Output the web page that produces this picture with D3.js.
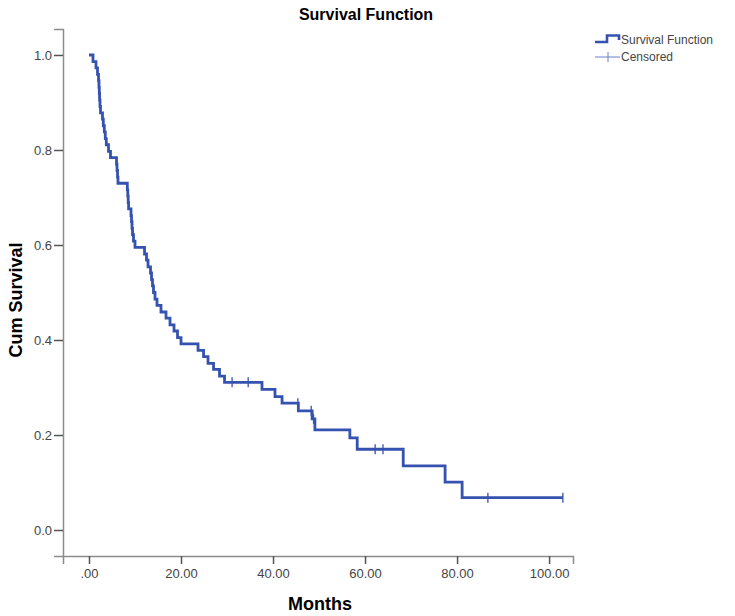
<!DOCTYPE html>
<html>
<head>
<meta charset="utf-8">
<script src="https://cdn.jsdelivr.net/npm/d3@7"></script>
<style>
  html, body { margin: 0; padding: 0; background: #fff; }
  svg { display: block; }
</style>
</head>
<body>
<svg id="chart" width="735" height="616"></svg>
<script>
// ---- Data ----
const eventTimes = [0.87, 1.52, 1.85, 2.07, 2.17, 2.24, 2.30, 2.39, 2.50, 2.93,
  3.11, 3.33, 3.54, 3.76, 4.24, 4.67, 5.98, 6.09, 6.20, 6.30,
  8.33, 8.43, 8.52, 8.61, 9.13, 9.24, 9.35, 9.46, 9.67, 10.0,
  12.07, 12.5, 12.83, 13.37, 13.59, 13.8, 14.02, 14.35, 14.78, 15.65,
  16.74, 17.61, 18.48, 19.24, 20.0, 23.7, 24.9, 25.87, 27.07, 28.37,
  29.46, 37.6, 40.43, 41.96, 45.5, 48.5, 49.1, 56.7, 58.3, 68.3,
  77.4, 81.1];
const survivalValues = [0.986, 0.973, 0.959, 0.946, 0.932, 0.919, 0.905, 0.892, 0.878, 0.865,
  0.851, 0.838, 0.824, 0.811, 0.797, 0.784, 0.770, 0.757, 0.743, 0.730,
  0.716, 0.703, 0.689, 0.676, 0.662, 0.649, 0.635, 0.622, 0.608, 0.595,
  0.581, 0.568, 0.554, 0.541, 0.527, 0.514, 0.500, 0.486, 0.473, 0.459,
  0.446, 0.432, 0.419, 0.405, 0.392, 0.378, 0.365, 0.351, 0.338, 0.324,
  0.311, 0.296, 0.281, 0.267, 0.251, 0.234, 0.211, 0.194, 0.170, 0.135,
  0.101, 0.068];
const censorTimes = [31.1, 34.6, 45.4, 48.3, 48.8, 62.2, 63.9, 86.7, 103.0];
const censorSurvival = [0.311, 0.311, 0.267, 0.251, 0.234, 0.170, 0.170, 0.068, 0.068];
const xTicks = [0, 20, 40, 60, 80, 100];
const yTicks = [0.0, 0.2, 0.4, 0.6, 0.8, 1.0];
const titleText = "Survival Function";
const xTitle = "Months";
const yTitle = "Cum Survival";
const legendItems = ["Survival Function", "Censored"];

// ---- Layout ----
const svg = d3.select("#chart");
const lineColor = "#3552b0";
const axisColor = "#8c8c8c";
const textColor = "#444";

const x = d3.scaleLinear().domain([-5.65, 105.2]).range([63, 573]);
const y = d3.scaleLinear().domain([-0.0547, 1.0547]).range([556, 29]);

// Title
svg.append("text")
  .attr("x", 366).attr("y", 20)
  .attr("text-anchor", "middle")
  .style("font-family", "Liberation Sans, Arial, sans-serif")
  .style("font-weight", "bold")
  .style("font-size", "16px")
  .attr("fill", "#000")
  .text(titleText);

// Axes
const xAxis = d3.axisBottom(x)
  .tickValues(xTicks)
  .tickSizeOuter(0)
  .tickSize(8)
  .tickPadding(5)
  .tickFormat(d => d === 0 ? ".00" : d.toFixed(2));
const yAxis = d3.axisLeft(y)
  .tickValues(yTicks)
  .tickSizeOuter(0)
  .tickSize(9)
  .tickPadding(2)
  .tickFormat(d3.format(".1f"));

const gx = svg.append("g").attr("transform", `translate(0,${y.range()[0]})`).call(xAxis);
const gy = svg.append("g").attr("transform", `translate(${x.range()[0]},0)`).call(yAxis);

[gx, gy].forEach(g => {
  g.select(".domain").attr("stroke", axisColor).attr("stroke-width", 1.5);
  g.selectAll(".tick line").attr("stroke", "#555").attr("stroke-width", 1.5);
  g.selectAll(".tick text")
    .attr("fill", textColor)
    .style("font-family", "Liberation Sans, Arial, sans-serif")
    .style("font-size", "13px");
});

// Axis titles
svg.append("text")
  .attr("x", 320).attr("y", 610)
  .attr("text-anchor", "middle")
  .style("font-family", "Liberation Sans, Arial, sans-serif")
  .style("font-weight", "bold")
  .style("font-size", "18px")
  .text(xTitle);

svg.append("text")
  .attr("transform", "translate(22,300) rotate(-90)")
  .attr("text-anchor", "middle")
  .style("font-family", "Liberation Sans, Arial, sans-serif")
  .style("font-weight", "bold")
  .style("font-size", "18px")
  .text(yTitle);

// Survival step curve
const pts = [[0, 1]].concat(eventTimes.map((t, i) => [t, survivalValues[i]]));
pts.push([d3.max(censorTimes), survivalValues[survivalValues.length - 1]]);

const line = d3.line()
  .x(d => x(d[0]))
  .y(d => y(d[1]))
  .curve(d3.curveStepAfter);

svg.append("path")
  .datum(pts)
  .attr("fill", "none")
  .attr("stroke", lineColor)
  .attr("stroke-width", 2.8)
  .attr("stroke-linejoin", "miter")
  .attr("d", line);

// Censor marks
svg.append("g").selectAll("line")
  .data(censorTimes.map((t, i) => [t, censorSurvival[i]]))
  .join("line")
  .attr("x1", d => x(d[0])).attr("x2", d => x(d[0]))
  .attr("y1", d => y(d[1]) - 5).attr("y2", d => y(d[1]) + 5)
  .attr("stroke", lineColor)
  .attr("stroke-width", 1.3);

// Legend
const lg = svg.append("g");
lg.append("path")
  .attr("d", "M595,42 L607,42 L607,35.5 L619,35.5 L619,40")
  .attr("fill", "none")
  .attr("stroke", lineColor)
  .attr("stroke-width", 2.6);
lg.append("line")
  .attr("x1", 595).attr("x2", 620).attr("y1", 57).attr("y2", 57)
  .attr("stroke", "#6a80c8").attr("stroke-width", 1);
lg.append("line")
  .attr("x1", 608).attr("x2", 608).attr("y1", 52).attr("y2", 62)
  .attr("stroke", "#6a80c8").attr("stroke-width", 1);
lg.selectAll("text")
  .data(legendItems)
  .join("text")
  .attr("x", 621)
  .attr("y", (d, i) => 44 + i * 17)
  .style("font-family", "Liberation Sans, Arial, sans-serif")
  .style("font-size", "12px")
  .attr("fill", textColor)
  .text(d => d);
</script>
</body>
</html>
